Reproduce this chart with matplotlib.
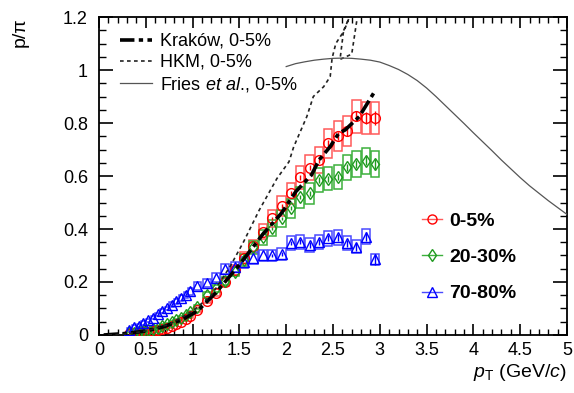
import numpy as np
import matplotlib
matplotlib.use('Agg')
import matplotlib.pyplot as plt
from matplotlib.patches import Rectangle
from matplotlib.lines import Line2D
from matplotlib.ticker import MultipleLocator

plt.rcParams['font.family'] = ['Liberation Sans', 'DejaVu Sans']
plt.rcParams['mathtext.fontset'] = 'custom'
plt.rcParams['mathtext.rm'] = 'Liberation Sans'
plt.rcParams['mathtext.it'] = 'Liberation Sans:italic'

# measured p/pi ratio vs pT for three centrality classes
pt = [0.325, 0.375, 0.425, 0.475, 0.525, 0.575, 0.625, 0.675, 0.725, 0.775,
      0.825, 0.875, 0.925, 0.975, 1.05, 1.15, 1.25, 1.35, 1.45, 1.55,
      1.65, 1.75, 1.85, 1.95, 2.05, 2.15, 2.25, 2.35, 2.45, 2.55,
      2.65, 2.75, 2.85, 2.95]

ratio_0_5 = [0.004, 0.006, 0.008, 0.010, 0.012, 0.015, 0.019, 0.023, 0.028, 0.034,
             0.042, 0.050, 0.060, 0.072, 0.095, 0.130, 0.160, 0.200, 0.245, 0.290,
             0.335, 0.390, 0.440, 0.487, 0.535, 0.595, 0.631, 0.660, 0.723, 0.750,
             0.770, 0.826, 0.818, 0.818]
stat_0_5 = [0.0] * 22 + [0.006, 0.007, 0.008, 0.009, 0.010, 0.012, 0.014, 0.016,
                         0.018, 0.020, 0.023, 0.026]

ratio_20_30 = [0.006, 0.009, 0.012, 0.015, 0.019, 0.023, 0.028, 0.034, 0.041, 0.048,
               0.056, 0.065, 0.075, 0.085, 0.105, 0.150, 0.176, 0.204, 0.239, 0.283,
               0.331, 0.369, 0.403, 0.440, 0.478, 0.520, 0.535, 0.585, 0.590, 0.597,
               0.633, 0.645, 0.658, 0.645]
stat_20_30 = [0.0] * 22 + [0.005, 0.006, 0.007, 0.008, 0.009, 0.010, 0.011, 0.012,
                           0.014, 0.016, 0.018, 0.021]

ratio_70_80 = [0.020, 0.030, 0.035, 0.045, 0.055, 0.065, 0.078, 0.090, 0.100, 0.115,
               0.128, 0.140, 0.152, 0.165, 0.185, 0.195, 0.216, 0.250, 0.258, 0.275,
               0.290, 0.300, 0.300, 0.305, 0.348, 0.352, 0.340, 0.352, 0.365, 0.369,
               0.346, 0.333, 0.371, 0.285]
stat_70_80 = [0.0] * 22 + [0.006, 0.007, 0.008, 0.009, 0.010, 0.011, 0.012, 0.013,
                           0.014, 0.015, 0.017, 0.019]

sys_frac = 0.075
sys_min = 0.006

# model curves
krakow_pt = [0.05, 0.3, 0.5, 0.7, 0.9, 1.05, 1.25, 1.5, 1.75, 1.95, 2.1, 2.27,
             2.35, 2.47, 2.56, 2.63, 2.78, 2.94]
krakow_ratio = [0.0, 0.006, 0.015, 0.032, 0.060, 0.090, 0.160, 0.265, 0.380, 0.460,
                0.540, 0.604, 0.660, 0.711, 0.761, 0.774, 0.824, 0.916]

hkm_pt = [0.1, 0.3, 0.5, 0.75, 1.0, 1.2, 1.4, 1.545, 1.71, 1.9, 2.03, 2.08, 2.22,
          2.29, 2.40, 2.47, 2.49, 2.53, 2.60, 2.67, 2.61, 2.575, 2.70, 2.76, 2.78]
hkm_ratio = [0.0, 0.004, 0.015, 0.040, 0.090, 0.150, 0.258, 0.352, 0.470, 0.590,
             0.654, 0.710, 0.824, 0.900, 0.937, 0.975, 1.044, 1.100, 1.138, 1.195,
             1.140, 1.040, 1.060, 1.200, 1.260]

fries_pt = [2.0, 2.1, 2.2, 2.3, 2.4, 2.5, 2.6, 2.7, 2.8, 2.9, 3.0, 3.1, 3.2, 3.3,
            3.4, 3.5, 3.6, 3.7, 3.8, 3.9, 4.0, 4.1, 4.2, 4.3, 4.4, 4.5, 4.6, 4.7,
            4.8, 4.9, 5.0]
fries_ratio = [1.013, 1.024, 1.031, 1.037, 1.041, 1.044, 1.045, 1.044, 1.041, 1.037,
               1.030, 1.017, 1.002, 0.983, 0.960, 0.932, 0.900, 0.866, 0.832, 0.798,
               0.763, 0.729, 0.695, 0.660, 0.627, 0.594, 0.563, 0.535, 0.507, 0.481,
               0.455]

series = [
    ('0-5%', ratio_0_5, stat_0_5, 'o', 'red', '#ff5a5a'),
    ('20-30%', ratio_20_30, stat_20_30, 'd', '#1f9a1f', '#3cb03c'),
    ('70-80%', ratio_70_80, stat_70_80, '^', 'blue', '#4a4aff'),
]

fig = plt.figure(figsize=(5.74, 3.93), dpi=100)
ax = fig.add_axes([0.1725, 0.1476, 0.8153, 0.8091])

x = np.array(pt)
half_w = np.gradient(x) * 0.44
handles = []
for label, vals, stat, mk, col, boxcol in series:
    y = np.array(vals)
    sys = np.maximum(y * sys_frac, sys_min)
    for xi, yi, hw, si in zip(x, y, half_w, sys):
        ax.add_patch(Rectangle((xi - hw, yi - si), 2 * hw, 2 * si, fill=False,
                               edgecolor=boxcol, lw=1.1, zorder=2))
    ax.errorbar(x, y, yerr=stat, fmt=mk, mfc='none', mec=col, ecolor=col,
                ms=6.5 if mk != 'o' else 7, mew=1.0, elinewidth=1.0, capsize=0,
                zorder=3)
    handles.append(Line2D([], [], color=boxcol, marker=mk, mfc='none', mec=col,
                          ms=6.5, mew=1.0, lw=1.0, label=label))

kr, = ax.plot(krakow_pt, krakow_ratio, color='black', lw=2.6,
              ls=(0, (4.0, 1.2, 1.2, 1.2)), zorder=4, label='Kraków, 0-5%')
hk, = ax.plot(hkm_pt, hkm_ratio, color='#222222', lw=1.2,
              ls=(0, (2.2, 2.0)), zorder=4, label='HKM, 0-5%')
fr, = ax.plot(fries_pt, fries_ratio, color='#555555', lw=0.9, zorder=4,
              label=r'Fries $\it{et\ al}$., 0-5%')

ax.set_xlim(0, 5)
ax.set_ylim(0, 1.2)
ax.xaxis.set_major_locator(MultipleLocator(0.5))
ax.xaxis.set_minor_locator(MultipleLocator(0.1))
ax.yaxis.set_major_locator(MultipleLocator(0.2))
ax.yaxis.set_minor_locator(MultipleLocator(0.05))
ax.xaxis.set_major_formatter(plt.FuncFormatter(lambda v, p: f'{v:g}'))
ax.yaxis.set_major_formatter(plt.FuncFormatter(lambda v, p: f'{v:g}'))
ax.tick_params(which='both', direction='in', top=True, right=True, labelsize=13)
ax.tick_params(axis='x', which='major', length=8, width=1.2, pad=5)
ax.tick_params(axis='x', which='minor', length=4, width=1.0)
ax.tick_params(axis='y', which='major', length=10, width=1.2, pad=8)
ax.tick_params(axis='y', which='minor', length=5, width=1.0)
for s in ax.spines.values():
    s.set_linewidth(1.3)

ax.set_ylabel('p/\u03c0', fontsize=14, loc='top')
ax.yaxis.set_label_coords(-0.15, 1.0)
ax.set_xlabel(r'$p_{\rm T}$ (GeV/$c$)', fontsize=14, loc='right')
ax.xaxis.set_label_coords(1.0, -0.085)

leg1 = ax.legend(handles=[kr, hk, fr], loc='upper left', bbox_to_anchor=(0.045, 0.95),
                 frameon=False, fontsize=13, handlelength=1.75, handletextpad=0.45,
                 labelspacing=0.22, borderpad=0, borderaxespad=0)
ax.add_artist(leg1)
ax.legend(handles=handles, loc='upper left', bbox_to_anchor=(0.69, 0.385),
          frameon=False, prop={'size': 14, 'weight': 'bold'}, handlelength=1.05,
          handletextpad=0.35, labelspacing=0.95, borderpad=0, borderaxespad=0)

fig.savefig('out.png', dpi=100)
